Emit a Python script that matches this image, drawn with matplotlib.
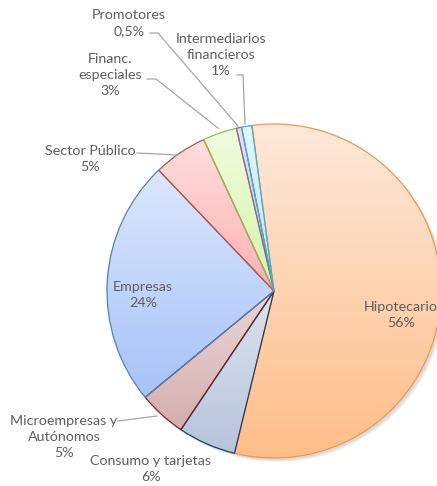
import numpy as np
import matplotlib
matplotlib.use("Agg")
import matplotlib.pyplot as plt
from matplotlib.colors import LinearSegmentedColormap

# ---- data ----
categories = ["Hipotecario", "Consumo y tarjetas", "Microempresas y\nAutónomos", "Empresas",
              "Sector Público", "Financ.\nespeciales", "Promotores", "Intermediarios\nfinancieros"]
values = [55.8, 5.6, 4.6, 23.8, 5.2, 3.3, 0.5, 1.0]
pct_labels = ["56%", "6%", "5%", "24%", "5%", "3%", "0,5%", "1%"]

top_colors = ["#FDE9DA", "#DDE3EE", "#EBD6D6", "#DDE7FD", "#FFDEDE", "#F0FCE0", "#E8E0F3", "#E0F6FD"]
bot_colors = ["#FFBE88", "#B6C5DC", "#D6ADAD", "#A6C3F8", "#FFB0B0", "#D6F4A6", "#CFC0E6", "#B8E8F8"]
edge_colors = ["#F79646", "#1F3C66", "#6B2A28", "#4F81BD", "#C0504D", "#9BBB59", "#8064A2", "#4BACC6"]

W, H = 437, 486
fig = plt.figure(figsize=(W / 100, H / 100), dpi=100)
ax = fig.add_axes([0, 0, 1, 1])

def P(x, y):
    """pixel (top-left origin) -> data coords"""
    return (x, H - y)

cx, cy = P(274, 291)
R = 167

# shadow
for i, a in enumerate([0.05, 0.05, 0.05]):
    sh = plt.Circle((cx + 2 + i, cy - 2 - i), R, color="#000000", alpha=a, lw=0, zorder=0)
    ax.add_patch(sh)

wedges, _ = ax.pie(values, startangle=97.6, counterclock=False, center=(cx, cy), radius=R,
                   wedgeprops=dict(linewidth=0.9), frame=True)

for w, tc, bc, ec in zip(wedges, top_colors, bot_colors, edge_colors):
    w.set_facecolor("none")
    w.set_edgecolor(ec)
    w.set_zorder(3)
    ext = w.get_path().get_extents()
    cmap = LinearSegmentedColormap.from_list("g", [bc, tc])
    grad = np.linspace(0, 1, 256).reshape(-1, 1)
    im = ax.imshow(grad, cmap=cmap, origin="lower", aspect="auto",
                   extent=[ext.x0, ext.x1, ext.y0, ext.y1], zorder=2, interpolation="bilinear")
    im.set_clip_path(w)

ax.set_xlim(0, W)
ax.set_ylim(0, H)
ax.set_aspect("equal")
ax.axis("off")

txt_kw = dict(fontsize=10.3, color="#5E5E5E", family=["Lato", "DejaVu Sans"], ha="center", va="center",
              linespacing=1.4, zorder=5)
lead_kw = dict(color="#A6A6A6", lw=0.9, zorder=4)

def lab(i, x, y):
    ax.text(*P(x, y), categories[i] + "\n" + pct_labels[i], **txt_kw)

lab(0, 401, 315)
lab(3, 143, 295)
lab(4, 90, 159)
lab(5, 110, 75)
lab(6, 129, 23)
lab(7, 221, 55)
lab(2, 64, 437)
lab(1, 151, 469)

def lead(pts):
    xs = [p[0] for p in pts]
    ys = [H - p[1] for p in pts]
    ax.plot(xs, ys, **lead_kw)

lead([(137, 153), (178, 155)])
lead([(147, 79), (156, 79), (218, 128)])
lead([(150, 33), (158, 33), (238, 126)])
lead([(237, 75), (243, 75), (245, 124)])
lead([(118, 421), (157, 416)])

fig.savefig("out.png", dpi=100)
